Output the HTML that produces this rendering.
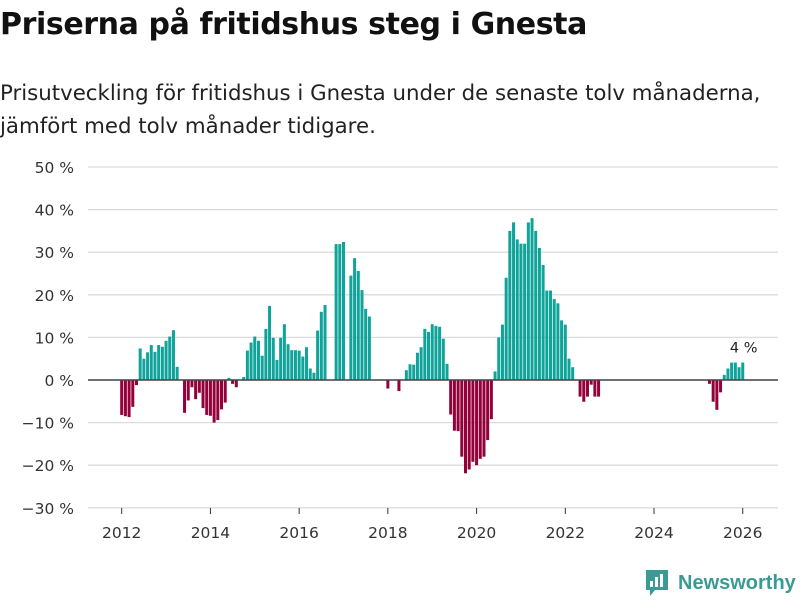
<!DOCTYPE html>
<html><head><meta charset="utf-8">
<style>
body{margin:0;width:800px;height:600px;background:#fff;font-family:"DejaVu Sans","Liberation Sans",sans-serif;overflow:hidden;position:relative}
h1{position:absolute;left:0;top:7px;margin:0;font-size:30px;font-weight:bold;color:#111;letter-spacing:-0.4px;white-space:nowrap}
.sub{position:absolute;left:0;top:77px;margin:0;font-size:21.3px;line-height:33px;color:#222;white-space:nowrap;letter-spacing:0}
svg{position:absolute;left:0;top:0}
</style></head><body>
<h1>Priserna på fritidshus steg i Gnesta</h1>
<p class="sub">Prisutveckling för fritidshus i Gnesta under de senaste tolv månaderna,<br>jämfört med tolv månader tidigare.</p>
<svg id="chart" width="800" height="600"></svg>
<script>
const yTicks=[50,40,30,20,10,0,-10,-20,-30];
const xTicks=[2012,2014,2016,2018,2020,2022,2024,2026];
const startYear=2012;
const values=[-8.2,-8.5,-8.7,-6.3,-1.2,
7.4,5,6.5,8.2,6.6,8.2,7.8,9.2,10.2,11.7,3.1,
0,
-7.7,-4.8,-1.7,-4.5,-3,-6.6,-8.2,-8.4,-10,-9.4,-6.9,-5.3,
0.5,-0.9,-1.7,0,0.7,
6.9,8.8,10.2,9.2,5.7,12,17.4,9.9,4.7,9.9,13.1,8.4,7,7,6.9,5.5,7.7,2.7,1.7,11.6,16,17.6,
0,0,31.9,31.9,32.4,0,24.5,28.6,25.6,21.1,16.7,14.9,
0,0,0,0,-2,0,0,-2.6,0,
2.3,3.7,3.6,6.4,7.7,12,11.3,13.1,12.7,12.5,9.7,3.8,
-8.1,-11.9,-12,-18,-21.9,-21,-19.2,-20,-18.5,-18,-14.1,-9.2,
2,10,13,24,35,37,33,32,32,37,38,35,31,27,21,21,19,18,14,13,5,3,
0,-3.9,-5.1,-3.9,-1.1,-3.9,-3.9,
0,0,0,0,0,0,0,0,0,0,0,0,0,0,0,0,0,0,0,0,0,0,0,0,0,0,0,0,0,
-0.9,-5.1,-7,-2.9,1.2,2.7,4.1,4.1,3,4.1];
const lastLabel="4 %";
const NS="http://www.w3.org/2000/svg";
const svg=document.getElementById('chart');
const FONT='DejaVu Sans, Liberation Sans, sans-serif';
const y=v=>380-v*4.26;
const x=t=>121.7+(t-startYear)*44.36;
function mk(tag,attrs){const e=document.createElementNS(NS,tag);for(const k in attrs)e.setAttribute(k,attrs[k]);svg.appendChild(e);return e;}
yTicks.forEach(t=>{
 const g=mk('line',{x1:88,x2:778,y1:y(t),y2:y(t),stroke:'#dcdcdc','stroke-width':1.3});
 
 
 const l=mk('text',{x:74,y:y(t)+6,'text-anchor':'end','font-size':15.5,fill:'#333','font-family':FONT});
 l.textContent=(t<0?'\u2212'+(-t):t)+' %';
 
 
});
xTicks.forEach(t=>{
 const tk=mk('line',{x1:x(t),x2:x(t),y1:508,y2:514,stroke:'#333','stroke-width':1});
 
 
 const l=mk('text',{x:x(t),y:538,'text-anchor':'middle','font-size':15.5,fill:'#333','font-family':FONT});
 l.textContent=t;
 
 
});
values.forEach((v,i)=>{
 if(v===0)return;
 const cx=x(startYear+i/12);
 const r=mk('rect',{x:cx-1.5,width:3,y:Math.min(y(v),y(0)),height:Math.abs(y(v)-y(0)),fill:v>0?'#0fa39a':'#93003a'});
 
 
});
const z=mk('line',{x1:88,x2:778,y1:y(0),y2:y(0),stroke:'#444','stroke-width':1.6});


const li=values.length-1;
const lab=mk('text',{x:x(startYear+li/12)+1,y:y(values[li])-10,'text-anchor':'middle','font-size':14.5,fill:'#222','font-family':FONT});
lab.textContent=lastLabel;


</script>
<div style="position:absolute;left:645px;top:569px;display:flex;align-items:center">
 <svg width="24" height="28" style="position:static"><path d="M1 1h22v20H10l-5 6v-6H1z" fill="#3a9b94"/><rect x="5" y="12" width="3" height="6" fill="#fff"/><rect x="10" y="8" width="3" height="10" fill="#fff"/><rect x="15" y="5" width="3" height="13" fill="#fff"/></svg>
 <span style="font-family:'Liberation Sans',sans-serif;font-size:20px;font-weight:bold;color:#3a9b94;margin-left:9px">Newsworthy</span>
</div>
</body></html>
